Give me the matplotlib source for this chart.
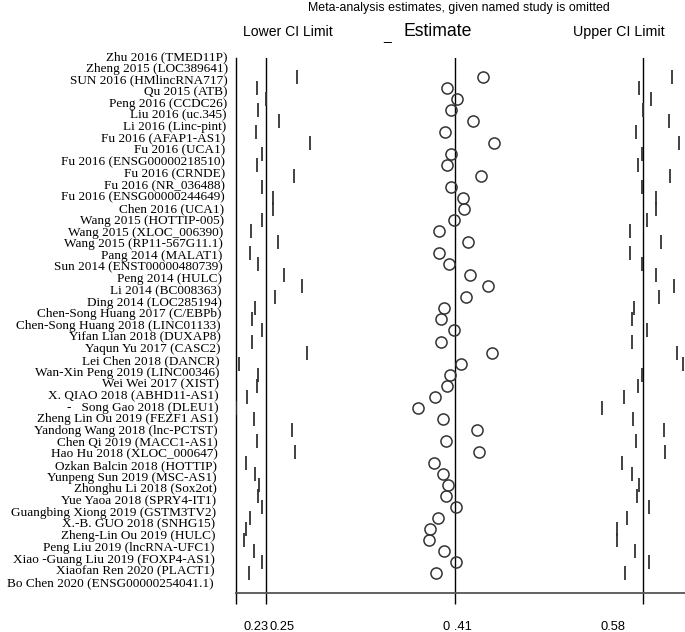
import matplotlib.pyplot as plt

studies = [
    "Zhu 2016 (TMED11P)", "Zheng 2015 (LOC389641)", "SUN 2016 (HMlincRNA717)",
    "Qu 2015 (ATB)", "Peng 2016 (CCDC26)", "Liu 2016 (uc.345)", "Li 2016 (Linc-pint)",
    "Fu 2016 (AFAP1-AS1)", "Fu 2016 (UCA1)", "Fu 2016 (ENSG00000218510)",
    "Fu 2016 (CRNDE)", "Fu 2016 (NR_036488)", "Fu 2016 (ENSG00000244649)",
    "Chen 2016 (UCA1)", "Wang 2015 (HOTTIP-005)", "Wang 2015 (XLOC_006390)",
    "Wang 2015 (RP11-567G11.1)", "Pang 2014 (MALAT1)", "Sun 2014 (ENST00000480739)",
    "Peng 2014 (HULC)", "Li 2014 (BC008363)", "Ding 2014 (LOC285194)",
    "Chen-Song Huang 2017 (C/EBPb)", "Chen-Song Huang 2018 (LINC01133)",
    "Yifan Lian 2018 (DUXAP8)", "Yaqun Yu 2017 (CASC2)", "Lei Chen 2018 (DANCR)",
    "Wan-Xin Peng 2019 (LINC00346)", "Wei Wei 2017 (XIST)", "X. QIAO 2018 (ABHD11-AS1)",
    "-   Song Gao 2018 (DLEU1)", "Zheng Lin Ou 2019 (FEZF1 AS1)",
    "Yandong Wang 2018 (lnc-PCTST)", "Chen Qi 2019 (MACC1-AS1)",
    "Hao Hu 2018 (XLOC_000647)", "Ozkan Balcin 2018 (HOTTIP)",
    "Yunpeng Sun 2019 (MSC-AS1)", "Zhonghu Li 2018 (Sox2ot)",
    "Yue Yaoa 2018 (SPRY4-IT1)", "Guangbing Xiong 2019 (GSTM3TV2)",
    "X.-B. GUO 2018 (SNHG15)", "Zheng-Lin Ou 2019 (HULC)",
    "Peng Liu 2019 (lncRNA-UFC1)", "Xiao -Guang Liu 2019 (FOXP4-AS1)",
    "Xiaofan Ren 2020 (PLACT1)", "Bo Chen 2020 (ENSG00000254041.1)",
]

estimate = [0.4384, 0.4074, 0.4160, 0.4105, 0.4298, 0.4051, 0.4474, 0.4108, 0.4068, 0.4367,
            0.4108, 0.4211, 0.4218, 0.4134, 0.4005, 0.4255, 0.4005, 0.4088, 0.4269, 0.4422,
            0.4235, 0.4048, 0.4022, 0.4134, 0.4022, 0.4459, 0.4192, 0.4094, 0.4068, 0.3968,
            0.3824, 0.4034, 0.4330, 0.4062, 0.4349, 0.3956, 0.4039, 0.4082, 0.4062, 0.4149,
            0.3993, 0.3924, 0.3916, 0.4048, 0.4149, 0.3976]
lower = [0.2775, 0.2430, 0.2508, 0.2444, 0.2625, 0.2422, 0.2890, 0.2474, 0.2430, 0.2752,
         0.2474, 0.2574, 0.2574, 0.2474, 0.2379, 0.2611, 0.2373, 0.2444, 0.2668, 0.2818,
         0.2588, 0.2416, 0.2387, 0.2479, 0.2387, 0.2864, 0.2280, 0.2444, 0.2430, 0.2344,
         0.2252, 0.2407, 0.2735, 0.2430, 0.2758, 0.2338, 0.2416, 0.2448, 0.2442, 0.2476,
         0.2373, 0.2336, 0.2321, 0.2410, 0.2474, 0.2367]
upper = [0.6008, 0.5729, 0.5827, 0.5763, 0.5985, 0.5698, 0.6068, 0.5752, 0.5715, 0.5993,
         0.5752, 0.5870, 0.5870, 0.5798, 0.5649, 0.5916, 0.5649, 0.5749, 0.5870, 0.6028,
         0.5901, 0.5680, 0.5663, 0.5793, 0.5663, 0.6051, 0.6108, 0.5749, 0.5715, 0.5597,
         0.5410, 0.5672, 0.5939, 0.5700, 0.5950, 0.5577, 0.5668, 0.5729, 0.5706, 0.5812,
         0.5625, 0.5539, 0.5534, 0.5692, 0.5815, 0.5605]

# pooled estimate and its CI, plus the axis minimum
axis_min = min(lower)
pooled = [0.2513, 0.4142, 0.5761]
tick_values = [axis_min] + pooled
tick_labels = ["0.23", "0.25", "0 .41", "0.58"]

W, H = 685, 632
fig = plt.figure(figsize=(W / 100, H / 100), dpi=100)

# main panel
ax = fig.add_axes([236 / W, 1 - 592.7 / H, 449 / W, (592.7 - 58) / H])
rows = list(range(len(studies)))
ax.set_xlim(axis_min, axis_min + 449 / 1160)
ax.set_ylim(46.76, -1.69)

for v in pooled:
    ax.axvline(v, color='black', lw=1.0, zorder=1)

ax.plot(estimate, rows, 'o', mfc='none', mec='#333333', ms=8, mew=1.1, zorder=3)
ax.plot(lower, rows, '|', color='#333333', ms=10, mew=1.3, zorder=3)
ax.plot(upper, rows, '|', color='#333333', ms=10, mew=1.3, zorder=3, clip_on=False)

ax.spines['top'].set_visible(False)
ax.spines['right'].set_visible(False)
ax.spines['left'].set_color('black')
ax.spines['left'].set_linewidth(1.0)
ax.spines['bottom'].set_color('#555555')
ax.spines['bottom'].set_linewidth(1.3)
ax.set_yticks([])
ax.set_xticks(tick_values)
ax.set_xticklabels([])
ax.tick_params(axis='x', direction='out', length=8, width=1.0, color='black')

# tick labels are shifted off their ticks in the original
label_shift = [20, 15.4, 2.3, -30.2]
for v, t, dx in zip(tick_values, tick_labels, label_shift):
    ax.annotate(t, xy=(v, 0), xycoords=('data', 'axes fraction'),
                xytext=(dx * 0.72, -24.7), textcoords='offset points',
                ha='center', va='center', fontsize=9.3, family='Liberation Sans')

# study labels (own vertical spacing, slightly slanted right edge)
lab = fig.add_axes([0, 1 - 588.7 / H, 236 / W, (588.7 - 51.5) / H])
lab.set_xlim(0, 236)
lab.set_ylim(len(studies) - 0.5, -0.5)
lab.axis('off')
n = len(studies)
for j, name in enumerate(studies):
    lab.text(228 - 14 * j / (n - 1), j, name, ha='right', va='center',
             fontsize=9.5, family='Liberation Serif', color='black')

# header texts
fig.text(458.5 / W, 1 - 7.5 / H, "Meta-analysis estimates, given named study is omitted",
         ha='center', va='center', fontsize=8.9, family='Liberation Sans')
fig.text(288 / W, 1 - 31.7 / H, "Lower CI Limit", ha='center', va='center',
         fontsize=10.1, family='Liberation Sans')
fig.text(437.5 / W, 1 - 31.7 / H, "Estimate", ha='center', va='center',
         fontsize=12.7, family='Liberation Sans')
fig.text(619 / W, 1 - 31.7 / H, "Upper CI Limit", ha='center', va='center',
         fontsize=10.3, family='Liberation Sans')
fig.text(387 / W, 1 - 40 / H, "_", ha='center', va='baseline',
         fontsize=10, family='Liberation Sans')

fig.savefig('out.png', dpi=100)
